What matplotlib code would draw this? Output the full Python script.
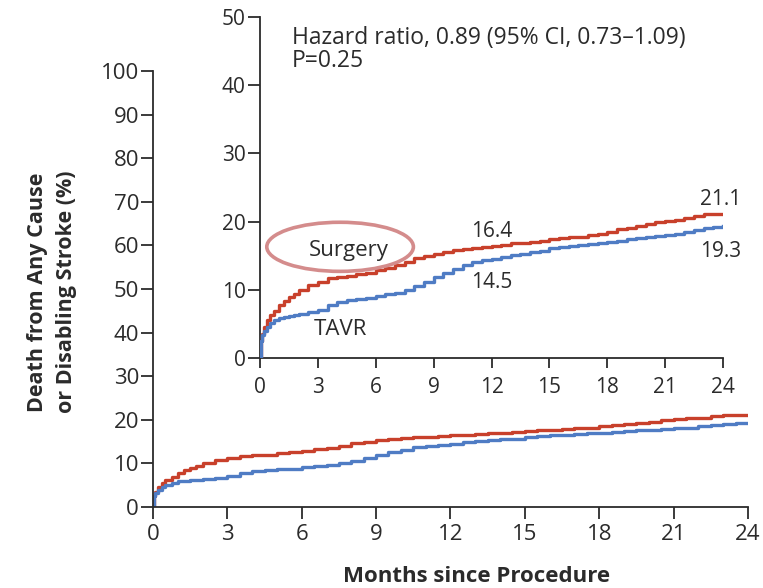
import matplotlib.pyplot as plt
from matplotlib.patches import Ellipse

plt.rcParams['font.family'] = ['Open Sans', 'DejaVu Sans']

# Kaplan-Meier estimates, death from any cause or disabling stroke (%)
months = [0, 0.05, 0.1, 0.2, 0.35, 0.5, 0.75, 1.0, 1.25, 1.5, 1.75, 2.0, 2.5,
          3.0, 3.5, 4.0, 4.5, 5.0, 5.5, 6.0, 6.5, 7.0, 7.5, 8.0, 8.5, 9.0,
          9.5, 10.0, 10.5, 11.0, 11.5, 12.0, 12.5, 13.0, 13.5, 14.0, 14.5,
          15.0, 15.5, 16.0, 16.5, 17.0, 17.5, 18.0, 18.5, 19.0, 19.5, 20.0,
          20.5, 21.0, 21.5, 22.0, 22.5, 23.0, 23.5, 24.0]

surgery = [0, 2.5, 3.5, 4.5, 5.5, 6.3, 6.9, 7.8, 8.4, 8.9, 9.4, 10.0, 10.7,
           11.2, 11.7, 11.9, 12.0, 12.3, 12.5, 12.9, 13.2, 13.6, 14.0, 14.6,
           15.0, 15.3, 15.6, 15.8, 16.0, 16.1, 16.3, 16.4, 16.5, 16.8, 16.9,
           17.0, 17.2, 17.4, 17.6, 17.7, 17.8, 18.0, 18.2, 18.5, 18.9, 19.1,
           19.3, 19.6, 19.9, 20.1, 20.3, 20.5, 20.8, 21.1, 21.1, 21.1]

tavr = [0, 2.5, 3.3, 4.0, 4.6, 5.1, 5.6, 5.9, 6.0, 6.2, 6.3, 6.4, 6.7,
        7.1, 7.7, 8.2, 8.5, 8.7, 8.8, 9.1, 9.4, 9.6, 10.0, 10.6, 11.2, 11.9,
        12.5, 13.1, 13.7, 14.0, 14.3, 14.5, 14.8, 15.1, 15.3, 15.5, 15.7,
        16.1, 16.2, 16.4, 16.6, 16.7, 16.9, 17.0, 17.2, 17.4, 17.6, 17.7,
        17.9, 18.0, 18.2, 18.5, 18.8, 19.0, 19.2, 19.3]

x_ticks = [0, 3, 6, 9, 12, 15, 18, 21, 24]
main_y_ticks = list(range(0, 101, 10))
inset_y_ticks = list(range(0, 51, 10))

# values printed next to the curves
surgery_12, tavr_12 = 16.4, 14.5
surgery_24, tavr_24 = 21.1, 19.3

RED = '#c8402b'
BLUE = '#4f7cc4'
INK = '#2b2b2b'
RING = '#d48c8c'


def style_axes(ax, fontsize, ylen, xlen, ypad, xpad):
    for side in ['top', 'right']:
        ax.spines[side].set_visible(False)
    for side in ['left', 'bottom']:
        ax.spines[side].set_color(INK)
        ax.spines[side].set_linewidth(1.3)
    ax.tick_params(direction='out', width=1.3, color=INK,
                   labelsize=fontsize, labelcolor=INK)
    ax.tick_params(axis='y', length=ylen, pad=ypad)
    ax.tick_params(axis='x', length=xlen, pad=xpad)


fig = plt.figure(figsize=(7.63, 5.88), dpi=100)

# full-scale plot
ax = fig.add_axes([0.2005, 0.1378, 0.7798, 0.7415])
ax.step(months, surgery, where='post', color=RED, lw=2.4)
ax.step(months, tavr, where='post', color=BLUE, lw=2.4)
ax.set_xlim(0, 24)
ax.set_ylim(0, 100)
ax.set_xticks(x_ticks)
ax.set_yticks(main_y_ticks)
style_axes(ax, 16, 8.5, 8.5, 1.5, 4)

fig.text(0.068, 0.503, 'Death from Any Cause\nor Disabling Stroke (%)',
         rotation=90, ha='center', va='center', fontsize=15.5,
         fontweight='bold', color=INK, linespacing=1.5)
fig.text(0.624, 0.019, 'Months since Procedure', ha='center', va='center',
         fontsize=16, fontweight='bold', color=INK)

# zoomed inset, 0-50%
ins = fig.add_axes([0.3408, 0.3912, 0.6068, 0.5799])
ins.set_facecolor('white')
ins.step(months, surgery, where='post', color=RED, lw=2.4, zorder=3)
ins.step(months, tavr, where='post', color=BLUE, lw=2.4, zorder=3)
ins.set_xlim(0, 24)
ins.set_ylim(0, 50)
ins.set_xticks(x_ticks)
ins.set_yticks(inset_y_ticks)
style_axes(ins, 15, 9, 7.5, 1.5, 6)

ins.text(1.66, 46.0, 'Hazard ratio, 0.89 (95% CI, 0.73\u20131.09)',
         ha='left', va='baseline', fontsize=16.5, color=INK)
ins.text(1.66, 42.6, 'P=0.25', ha='left', va='baseline', fontsize=16.5,
         color=INK)

ins.text(12.0, surgery_12 + 1.4, f'{surgery_12}', ha='center',
         va='baseline', fontsize=15, color=INK)
ins.text(12.0, tavr_12 - 4.2, f'{tavr_12}', ha='center', va='baseline',
         fontsize=15, color=INK)
ins.text(23.9, surgery_24 + 1.3, f'{surgery_24}', ha='center',
         va='baseline', fontsize=15, color=INK)
ins.text(23.9, tavr_24 - 4.5, f'{tavr_24}', ha='center', va='baseline',
         fontsize=15, color=INK)

ins.text(4.58, 14.9, 'Surgery', ha='center', va='baseline', fontsize=16,
         color=INK)
ins.text(4.15, 3.4, 'TAVR', ha='center', va='baseline', fontsize=16,
         color=INK)
ins.add_patch(Ellipse((4.15, 16.3), 7.6, 7.2, fill=False, edgecolor=RING,
                      lw=2.6, zorder=4, clip_on=False))

fig.savefig('out.png', dpi=100)
